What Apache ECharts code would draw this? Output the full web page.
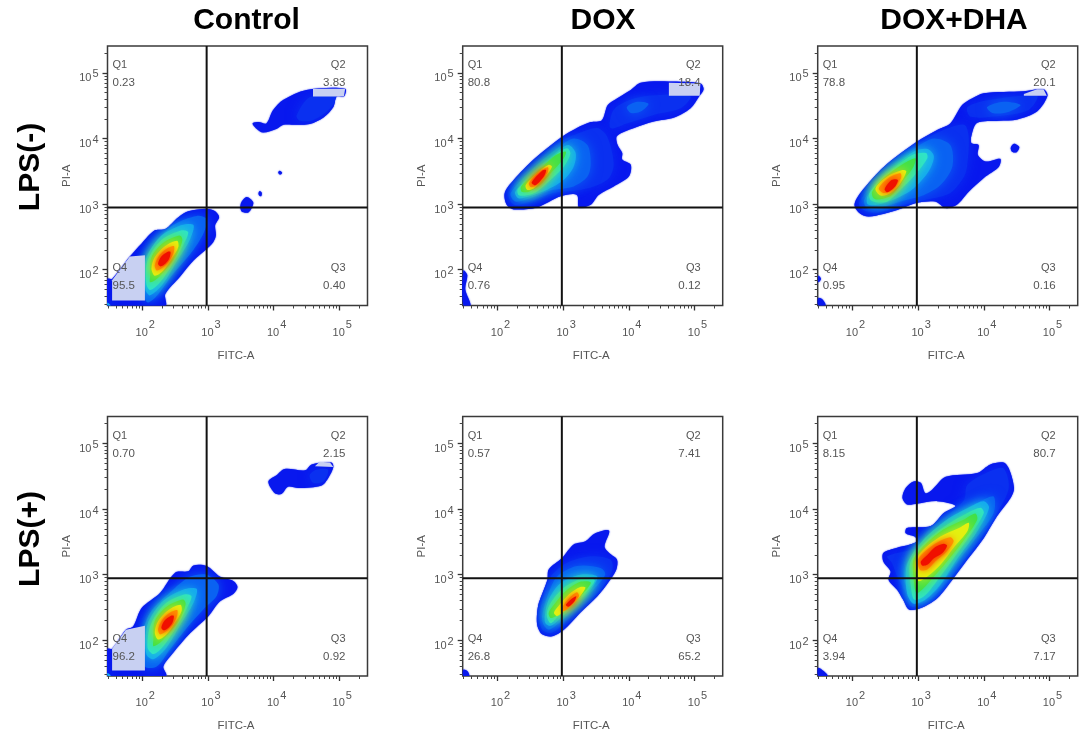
<!DOCTYPE html>
<html><head><meta charset="utf-8">
<style>html,body{margin:0;padding:0;background:#fff}#c{width:1081px;height:742px;filter:blur(0.45px)}</style>
<script src="https://cdn.jsdelivr.net/npm/echarts@6/dist/echarts.min.js"></script>
</head><body><div id="c"></div>
<script>
// Axis values are log10 of FITC-A / PI-A. Each region: [density level, [x,y, x,y, ...]]
const columnTitles = ['Control','DOX','DOX+DHA'];
const rowTitles = ['LPS(-)','LPS(+)'];
const majorTicks = [2,3,4,5];
const minorTicks = [1.477,1.602,1.699,1.778,1.845,1.903,1.954,2.301,2.477,2.602,2.699,2.778,2.845,2.903,2.954,3.301,3.477,3.602,3.699,3.778,3.845,3.903,3.954,4.301,4.477,4.602,4.699,4.778,4.845,4.903,4.954,5.301];
const gateX = 2.98, gateYTop = 2.95, gateYBottom = 2.945;
const quadrantNames = ['Q1','Q2','Q3','Q4'];
const quadA = ['0.23','3.83','0.40','95.5'];
const quadB = ['80.8','18.4','0.12','0.76'];
const quadC = ['78.8','20.1','0.16','0.95'];
const quadD = ['0.70','2.15','0.92','96.2'];
const quadE = ['0.57','7.41','65.2','26.8'];
const quadF = ['8.15','80.7','7.17','3.94'];
const levelColors = ['#0818ee','#0a30f0','#0a62f2','#14a8f0','#30e4c8','#40e048','#e4f010','#ff9000','#f01000'];

const regionsA = [
 [0,[1.47,1.45,1.47,1.86,1.54,1.86,1.81,2.20,1.99,2.40,2.19,2.60,2.35,2.62,2.55,2.80,2.70,2.89,2.98,2.93,3.11,2.89,3.17,2.80,3.11,2.68,3.12,2.52,3.08,2.42,2.95,2.29,2.78,2.14,2.57,1.89,2.35,1.63,2.35,1.45]],
 [0,[3.68,4.23,3.77,4.25,3.89,4.23,3.99,4.43,4.15,4.59,4.50,4.74,5.09,4.76,5.07,4.64,4.96,4.64,4.91,4.48,4.76,4.32,4.55,4.22,4.35,4.21,4.15,4.21,4.05,4.15,3.84,4.09,3.74,4.15]],
 [1,[4.35,4.35,4.55,4.63,4.96,4.63,4.83,4.43,4.60,4.28,4.40,4.27]],
 [0,[3.50,3.01,3.59,3.11,3.69,3.03,3.66,2.93,3.61,2.87,3.51,2.89]],
 [0,[3.77,3.17,3.79,3.20,3.82,3.17,3.81,3.12,3.78,3.13]],
 [0,[4.07,3.48,4.09,3.51,4.13,3.48,4.10,3.45]],
 [2,[2.04,1.55,1.99,2.04,2.17,2.37,2.47,2.68,2.83,2.82,2.98,2.77,2.93,2.55,2.73,2.24,2.47,1.94,2.22,1.60,2.09,1.50]],
 [3,[2.05,1.69,2.05,2.14,2.27,2.50,2.60,2.68,2.78,2.68,2.73,2.47,2.52,2.12,2.32,1.79,2.12,1.61]],
 [4,[2.06,1.79,2.08,2.14,2.29,2.45,2.60,2.60,2.70,2.57,2.62,2.37,2.45,2.07,2.27,1.81,2.12,1.69]],
 [5,[2.12,1.91,2.14,2.19,2.32,2.41,2.57,2.52,2.61,2.45,2.52,2.22,2.37,2.02,2.22,1.86,2.12,1.81]],
 [6,[2.14,2.02,2.19,2.19,2.35,2.36,2.53,2.44,2.55,2.35,2.45,2.17,2.32,1.99,2.19,1.91]],
 [7,[2.19,2.07,2.26,2.22,2.37,2.32,2.48,2.36,2.48,2.27,2.40,2.12,2.29,2.02,2.22,1.99]],
 [8,[2.24,2.09,2.29,2.20,2.38,2.27,2.43,2.27,2.41,2.17,2.35,2.09,2.28,2.05]],
 [3,[1.47,1.50,1.52,1.45,1.47,1.45]]
];
const regionsB = [
 [0,[2.11,3.17,2.25,3.37,2.55,3.68,2.99,4.03,3.21,4.16,3.42,4.25,3.59,4.28,3.68,4.51,3.82,4.61,4.03,4.74,4.18,4.85,4.61,4.87,5.09,4.84,5.14,4.75,5.07,4.64,4.94,4.46,4.69,4.32,4.38,4.26,4.08,4.16,3.82,4.04,3.83,3.90,3.90,3.78,3.90,3.68,4.03,3.60,4.00,3.42,3.77,3.27,3.54,3.14,3.42,2.99,3.24,2.95,3.21,3.14,2.96,3.12,2.60,2.95,2.25,2.92,2.14,2.99]],
 [0,[1.48,1.99,1.54,1.92,1.51,1.70,1.59,1.46,1.48,1.46]],
 [1,[3.77,4.44,4.08,4.61,4.58,4.67,4.94,4.64,4.79,4.46,4.38,4.36,3.97,4.23,3.72,4.16]],
 [2,[3.97,4.48,4.13,4.56,4.30,4.53,4.18,4.41,4.03,4.39]],
 [1,[2.17,3.17,2.55,3.60,2.96,3.95,3.26,4.09,3.52,4.16,3.67,4.03,3.77,3.62,3.70,3.40,3.47,3.27,3.21,3.21,2.81,3.16,2.50,3.04,2.25,2.99]],
 [2,[2.20,3.17,2.55,3.55,2.91,3.85,3.16,4.00,3.37,3.90,3.42,3.62,3.37,3.42,3.16,3.27,2.81,3.21,2.50,3.09,2.27,3.04]],
 [3,[2.27,3.19,2.55,3.49,2.91,3.80,3.08,3.90,3.19,3.78,3.16,3.57,3.01,3.37,2.76,3.22,2.48,3.12,2.32,3.09]],
 [4,[2.31,3.23,2.55,3.44,2.91,3.77,3.06,3.85,3.11,3.77,3.01,3.57,2.81,3.37,2.60,3.19,2.43,3.13,2.32,3.14]],
 [5,[2.36,3.27,2.58,3.47,2.88,3.74,3.04,3.80,3.01,3.70,2.81,3.47,2.65,3.29,2.48,3.19,2.37,3.19]],
 [6,[2.43,3.29,2.60,3.47,2.78,3.60,2.83,3.57,2.73,3.42,2.55,3.24,2.45,3.22]],
 [7,[2.48,3.32,2.65,3.50,2.77,3.56,2.76,3.48,2.60,3.29,2.51,3.26]],
 [8,[2.52,3.33,2.68,3.51,2.74,3.52,2.71,3.43,2.58,3.29]]
];
const regionsC = [
 [0,[2.03,2.99,2.12,3.17,2.48,3.57,2.98,3.95,3.29,4.13,3.49,4.23,3.67,4.51,3.82,4.61,4.00,4.69,4.61,4.72,4.91,4.75,4.97,4.65,4.81,4.41,4.51,4.29,4.23,4.27,3.90,4.24,3.82,4.08,3.81,3.93,3.92,3.90,3.91,3.75,4.03,3.65,4.25,3.69,4.23,3.57,4.00,3.40,3.77,3.19,3.59,2.99,3.42,2.94,3.26,3.04,2.98,3.02,2.68,2.91,2.25,2.81,2.10,2.87]],
 [0,[4.41,3.86,4.46,3.92,4.54,3.87,4.50,3.79,4.43,3.80]],
 [0,[1.48,1.91,1.52,1.86,1.48,1.81]],
 [0,[1.48,1.57,1.54,1.55,1.59,1.46,1.48,1.46]],
 [1,[3.75,4.48,4.10,4.59,4.81,4.65,4.69,4.44,4.30,4.35,3.80,4.33]],
 [2,[4.05,4.48,4.30,4.56,4.56,4.51,4.36,4.40,4.13,4.39]],
 [1,[2.10,3.02,2.48,3.50,2.98,3.90,3.34,4.11,3.70,4.21,3.77,4.03,3.75,3.62,3.70,3.42,3.49,3.17,3.14,3.07,2.78,2.99,2.38,2.87,2.17,2.91]],
 [2,[2.18,3.07,2.48,3.47,2.98,3.87,3.24,4.00,3.49,3.90,3.52,3.57,3.34,3.29,3.09,3.14,2.73,3.04,2.40,2.94,2.22,2.94]],
 [3,[2.23,3.12,2.48,3.44,2.93,3.80,3.14,3.84,3.24,3.73,3.16,3.50,2.93,3.24,2.63,3.07,2.38,2.99,2.23,3.00]],
 [4,[2.26,3.17,2.48,3.42,2.91,3.75,3.12,3.78,3.14,3.70,2.93,3.42,2.73,3.22,2.53,3.04,2.35,3.03,2.27,3.07]],
 [5,[2.30,3.19,2.48,3.40,2.78,3.62,2.96,3.70,2.93,3.57,2.78,3.37,2.60,3.14,2.40,3.07,2.32,3.09]],
 [6,[2.35,3.24,2.53,3.42,2.76,3.52,2.82,3.50,2.73,3.32,2.58,3.17,2.43,3.13]],
 [7,[2.40,3.24,2.55,3.40,2.73,3.47,2.74,3.40,2.60,3.22,2.48,3.17]],
 [8,[2.49,3.23,2.60,3.37,2.69,3.37,2.65,3.27,2.53,3.18]]
];
const regionsD = [
 [0,[1.47,1.46,1.47,1.87,1.54,1.87,1.75,2.16,1.86,2.21,1.99,2.49,2.27,2.72,2.50,3.03,2.70,3.05,2.78,3.14,2.98,3.13,3.18,2.97,3.39,2.90,3.45,2.81,3.39,2.71,3.18,2.59,3.01,2.37,2.73,2.11,2.47,1.81,2.32,1.60,2.36,1.46]],
 [0,[3.92,4.42,4.05,4.52,4.17,4.61,4.48,4.59,4.58,4.68,4.88,4.71,4.91,4.64,4.83,4.47,4.73,4.36,4.38,4.32,4.22,4.34,4.12,4.23,4.02,4.24]],
 [1,[4.55,4.52,4.65,4.60,4.83,4.60,4.76,4.42,4.60,4.40]],
 [2,[2.04,1.60,1.99,2.01,2.12,2.42,2.47,2.77,2.73,2.97,2.98,3.00,3.16,2.85,3.13,2.67,2.95,2.49,2.68,2.19,2.42,1.86,2.22,1.60]],
 [3,[2.06,1.79,2.08,2.24,2.32,2.60,2.65,2.78,2.83,2.78,2.78,2.57,2.57,2.22,2.37,1.89,2.17,1.71]],
 [4,[2.08,1.89,2.13,2.24,2.34,2.55,2.65,2.70,2.75,2.67,2.67,2.47,2.50,2.17,2.32,1.91,2.17,1.79]],
 [5,[2.17,2.01,2.19,2.29,2.37,2.51,2.62,2.62,2.66,2.55,2.57,2.32,2.42,2.12,2.27,1.96,2.17,1.91]],
 [6,[2.19,2.12,2.24,2.29,2.40,2.46,2.58,2.54,2.60,2.45,2.50,2.27,2.37,2.09,2.24,2.01]],
 [7,[2.24,2.17,2.31,2.32,2.42,2.42,2.53,2.46,2.53,2.37,2.45,2.22,2.34,2.12,2.27,2.09]],
 [8,[2.29,2.19,2.34,2.30,2.43,2.37,2.48,2.37,2.46,2.27,2.40,2.19,2.33,2.15]],
 [3,[1.47,1.50,1.52,1.46,1.47,1.46]]
];
const regionsE = [
 [0,[1.48,1.55,1.54,1.53,1.57,1.46,1.48,1.46]],
 [0,[2.60,2.37,2.63,2.57,2.76,2.92,2.78,3.08,2.98,3.25,3.16,3.46,3.34,3.51,3.49,3.63,3.70,3.67,3.63,3.43,3.70,3.33,3.82,3.23,3.81,3.08,3.70,2.90,3.52,2.67,3.26,2.42,3.01,2.16,2.83,2.06,2.68,2.09,2.61,2.21]],
 [1,[2.64,2.37,2.70,2.67,2.81,2.97,3.06,3.18,3.42,3.28,3.72,3.23,3.75,3.08,3.57,2.77,3.26,2.49,2.96,2.21,2.81,2.11,2.68,2.16]],
 [2,[2.68,2.37,2.76,2.67,2.91,2.97,3.21,3.13,3.57,3.10,3.64,3.00,3.44,2.75,3.16,2.47,2.91,2.24,2.78,2.16,2.70,2.24]],
 [3,[2.72,2.37,2.78,2.62,2.96,2.87,3.26,3.00,3.52,2.97,3.42,2.77,3.16,2.52,2.93,2.31,2.81,2.22,2.73,2.26]],
 [4,[2.75,2.39,2.81,2.57,3.01,2.80,3.26,2.93,3.48,2.92,3.37,2.75,3.14,2.52,2.93,2.37,2.81,2.26]],
 [5,[2.78,2.42,2.86,2.54,3.04,2.75,3.26,2.89,3.42,2.88,3.31,2.72,3.11,2.52,2.93,2.39,2.81,2.34]],
 [6,[2.86,2.42,2.93,2.52,3.09,2.70,3.26,2.81,3.34,2.80,3.19,2.59,3.01,2.44,2.91,2.37]],
 [7,[2.98,2.49,3.09,2.64,3.21,2.73,3.24,2.67,3.11,2.52,3.01,2.44]],
 [8,[3.04,2.54,3.14,2.64,3.20,2.67,3.17,2.59,3.08,2.51]]
];
const regionsF = [
 [0,[1.48,1.58,1.56,1.53,1.62,1.46,1.48,1.46]],
 [0,[2.76,4.17,2.81,4.32,2.93,4.42,3.04,4.40,3.11,4.24,3.21,4.29,3.42,4.49,3.90,4.55,4.10,4.68,4.30,4.71,4.38,4.62,4.46,4.32,4.41,4.17,4.20,3.89,4.00,3.56,3.75,3.23,3.54,2.95,3.29,2.64,3.04,2.49,2.86,2.47,2.77,2.62,2.68,2.77,2.55,2.92,2.58,3.05,2.47,3.20,2.47,3.33,2.68,3.41,2.96,3.49,2.96,3.57,2.81,3.63,2.83,3.71,3.19,3.74,3.39,3.94,3.57,4.05,3.29,4.12,2.98,4.08,2.83,4.07]],
 [1,[2.53,3.28,3.02,3.43,3.14,3.66,3.49,3.94,3.70,4.14,3.75,4.37,4.10,4.58,4.30,4.62,4.38,4.32,4.20,3.94,3.95,3.56,3.59,3.08,3.24,2.67,2.98,2.52,2.88,2.52,2.81,2.72,2.68,2.97,2.60,3.18]],
 [2,[2.83,3.18,3.09,3.48,3.54,3.89,3.95,4.12,4.15,4.19,4.15,3.94,3.90,3.58,3.59,3.18,3.29,2.77,3.04,2.57,2.91,2.56,2.83,2.77,2.78,2.97]],
 [3,[2.83,3.15,3.06,3.51,3.44,3.84,3.80,4.04,4.00,4.12,4.08,4.02,3.90,3.66,3.59,3.23,3.34,2.85,3.11,2.62,2.93,2.56,2.83,2.72]],
 [4,[2.88,3.18,3.09,3.48,3.44,3.76,3.75,3.94,3.95,4.02,4.00,3.94,3.80,3.61,3.49,3.18,3.26,2.87,3.09,2.67,2.94,2.62,2.89,2.82]],
 [5,[2.93,3.23,3.11,3.46,3.39,3.69,3.70,3.84,3.87,3.93,3.90,3.84,3.70,3.53,3.44,3.20,3.24,2.97,3.06,2.77,2.97,2.72,2.93,2.97]],
 [6,[2.97,3.23,3.11,3.41,3.34,3.58,3.62,3.71,3.77,3.79,3.75,3.66,3.54,3.41,3.34,3.15,3.14,2.97,3.01,2.90,2.97,3.00]],
 [7,[3.00,3.23,3.11,3.36,3.29,3.49,3.49,3.57,3.54,3.51,3.44,3.36,3.26,3.20,3.14,3.08,3.03,3.07]],
 [8,[3.04,3.20,3.14,3.30,3.26,3.42,3.39,3.47,3.44,3.44,3.37,3.33,3.24,3.25,3.14,3.15,3.06,3.14]]
];
// pale selection patches lying over the density
const patchesA = [[1.54,1.84,1.81,2.20,2.04,2.22,2.04,1.53,1.54,1.53],[4.60,4.76,5.09,4.76,5.07,4.64,4.60,4.64]];
const patchesB = [[4.61,4.85,5.09,4.84,5.08,4.65,4.61,4.65]];
const patchesC = [[4.61,4.68,4.81,4.75,4.91,4.75,4.96,4.65,4.61,4.65]];
const patchesD = [[1.54,1.87,1.75,2.16,2.04,2.22,2.04,1.54,1.54,1.54],[4.63,4.65,4.70,4.72,4.86,4.71,4.91,4.64]];
const patchesE = [];
const patchesF = [];

const TXT='#555', FONT='"Liberation Sans",Arial,sans-serif';
const lefts=[107.5,462.7,817.7], tops=[46,416.5], W=260, H=259.5;
const XR=[1.47,5.43], YR=[1.455,5.41];
const panels=[
 [0,0,regionsA,patchesA,quadA],[0,1,regionsB,patchesB,quadB],[0,2,regionsC,patchesC,quadC],
 [1,0,regionsD,patchesD,quadD],[1,1,regionsE,patchesE,quadE],[1,2,regionsF,patchesF,quadF]];
const grid=[],xAxis=[],yAxis=[],series=[],graphic=[];
const sup=v=>'{b|10}{s|'+v+'}';
const richX={b:{fontSize:11,color:TXT,fontFamily:FONT,padding:[0,0,0,6]},s:{fontSize:11,color:TXT,fontFamily:FONT,padding:[0,0,15,1]}};
const richY={b:{fontSize:11,color:TXT,fontFamily:FONT},s:{fontSize:11,color:TXT,fontFamily:FONT,padding:[0,0,8,1]}};
function toPts(flat,api){const r=[];for(let i=0;i<flat.length;i+=2)r.push(api.coord([flat[i],flat[i+1]]));return r;}
function inside(px,py,f){let c=false;const n=f.length/2;for(let i=0,j=n-1;i<n;j=i++){const xi=f[2*i],yi=f[2*i+1],xj=f[2*j],yj=f[2*j+1];if((yi>py)!==(yj>py)&&px<(xj-xi)*(py-yi)/(yj-yi)+xi)c=!c;}return c;}
function centre(f){let x=0,y=0;for(let i=0;i<f.length;i+=2){x+=f[i];y+=f[i+1];}return [x*2/f.length,y*2/f.length];}
panels.forEach(([row,col,regions,patches,quad],i)=>{
  const L=lefts[col],T=tops[row];
  grid.push({left:L,top:T,width:W,height:H,show:true,borderColor:'#3a3a3a',borderWidth:1.5,backgroundColor:'#fff'});
  const base={gridIndex:i,type:'value',splitLine:{show:false},axisLine:{show:false}};
  xAxis.push(Object.assign({},base,{min:XR[0],max:XR[1],position:'bottom',name:'FITC-A',nameLocation:'middle',nameGap:44,nameTextStyle:{fontSize:11.5,color:TXT,fontFamily:FONT,padding:[0,3,0,0]},
    axisTick:{show:true,customValues:majorTicks,length:5,lineStyle:{color:'#333',width:1.3}},
    axisLabel:{customValues:majorTicks,formatter:sup,rich:richX,margin:14,hideOverlap:false}}));
  xAxis.push(Object.assign({},base,{min:XR[0],max:XR[1],position:'bottom',axisTick:{show:true,customValues:minorTicks,length:3,lineStyle:{color:'#444',width:1}},axisLabel:{show:false}}));
  yAxis.push(Object.assign({},base,{min:YR[0],max:YR[1],position:'left',name:'PI-A',nameLocation:'middle',nameGap:35,nameRotate:90,nameTextStyle:{fontSize:11.5,color:TXT,fontFamily:FONT},
    axisTick:{show:true,customValues:majorTicks,length:5,lineStyle:{color:'#333',width:1.3}},
    axisLabel:{customValues:majorTicks,formatter:sup,rich:richY,margin:9,padding:[11,0,0,0],hideOverlap:false}}));
  yAxis.push(Object.assign({},base,{min:YR[0],max:YR[1],position:'left',axisTick:{show:true,customValues:minorTicks,length:3,lineStyle:{color:'#444',width:1}},axisLabel:{show:false}}));
  const xi=i*2, yi=i*2;
  const sorted=regions.slice().sort((a,b)=>a[0]-b[0]);
  const outers=sorted.filter(r=>r[0]===0);
  series.push({type:'custom',xAxisIndex:xi,yAxisIndex:yi,clip:true,silent:true,z:2,animation:false,
    data:sorted.map((r,k)=>[r[1][0],r[1][1],k]),encode:{x:0,y:1},
    renderItem:(p,api)=>{const r=sorted[p.dataIndex];const c=levelColors[r[0]];
      const el={type:'polygon',shape:{points:toPts(r[1],api),smooth:0.3},
        style:{fill:c,shadowColor:c,shadowBlur:r[0]===0?1.5:(r[0]>=7?7:12)}};
      if(r[0]>0){const m=centre(r[1]);const o=outers.find(q=>inside(m[0],m[1],q[1]));
        if(o) el.clipPath={type:'polygon',shape:{points:toPts(o[1],api),smooth:0.3}};}
      return el;}});
  if(patches.length) series.push({type:'custom',xAxisIndex:xi,yAxisIndex:yi,clip:true,silent:true,z:3,animation:false,
    data:patches.map(f=>[f[0],f[1]]),encode:{x:0,y:1},
    renderItem:(p,api)=>({type:'polygon',shape:{points:toPts(patches[p.dataIndex],api)},style:{fill:'#c8d0f2'}})});
  series.push({type:'line',xAxisIndex:xi,yAxisIndex:yi,z:5,silent:true,animation:false,symbol:'none',lineStyle:{color:'#111',width:2},data:[[gateX,YR[0]],[gateX,YR[1]]]});
  const gy=row===0?gateYTop:gateYBottom;
  series.push({type:'line',xAxisIndex:xi,yAxisIndex:yi,z:5,silent:true,animation:false,symbol:'none',lineStyle:{color:'#111',width:2},data:[[XR[0],gy],[XR[1],gy]]});
  const qx=[L+5,L+W-22,L+W-22,L+5],qa=['left','right','right','left'],qy=[19,19,222,222];
  quadrantNames.forEach((n,q)=>{
    graphic.push({type:'text',z:10,x:qx[q],y:T+qy[q],style:{text:n,fill:TXT,font:'11px '+FONT,textAlign:qa[q],textVerticalAlign:'middle'}});
    graphic.push({type:'text',z:10,x:qx[q],y:T+qy[q]+18,style:{text:quad[q],fill:TXT,font:'11.5px '+FONT,textAlign:qa[q],textVerticalAlign:'middle'}});
  });
});
[246.5,603,954].forEach((x,i)=>graphic.push({type:'text',x,y:21,style:{text:columnTitles[i],fill:'#000',font:'bold 30px '+FONT,textAlign:'center',textVerticalAlign:'middle'}}));
[167,539].forEach((y,i)=>graphic.push({type:'text',x:31,y,rotation:Math.PI/2,style:{text:rowTitles[i],fill:'#000',font:'bold 30px '+FONT,textAlign:'center',textVerticalAlign:'middle'}}));
const chart=echarts.init(document.getElementById('c'),null,{renderer:'canvas'});
chart.setOption({animation:false,backgroundColor:'#fff',grid,xAxis,yAxis,series,graphic});
</script></body></html>
